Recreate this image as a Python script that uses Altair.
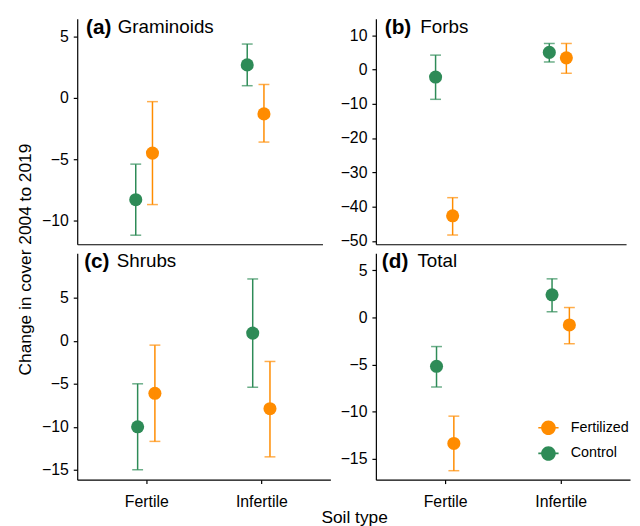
import altair as alt
import pandas as pd

FONT = "Liberation Sans"
ORANGE = "#FF8C00"
GREEN = "#2E8B57"

soil_types = ["Fertile", "Infertile"]
treatments = ["Fertilized", "Control"]
panel_tags = ["(a)", "(b)", "(c)", "(d)"]
panel_names = ["Graminoids", "Forbs", "Shrubs", "Total"]

# values per panel, ordered [Fertile, Infertile]
ctrl_mean = [[-8.3, 2.7], [-2.2, 5.0], [-10.0, 0.9], [-5.2, 2.4]]
ctrl_low = [[-11.2, 1.0], [-8.7, 2.2], [-15.0, -5.4], [-7.4, 0.6]]
ctrl_high = [[-5.4, 4.4], [4.2, 7.6], [-5.0, 7.2], [-3.1, 4.1]]
fert_mean = [[-4.5, -1.3], [-42.7, 3.4], [-6.1, -7.9], [-13.4, -0.8]]
fert_low = [[-8.7, -3.6], [-48.3, -1.1], [-11.7, -13.5], [-16.3, -2.8]]
fert_high = [[-0.3, 1.1], [-37.4, 7.6], [-0.5, -2.4], [-10.5, 1.05]]

y_domains = [[-11.94, 6.46], [-51.0, 14.8], [-16.15, 10.2], [-17.25, 6.83]]
y_ticks = [[-10, -5, 0, 5], [-50, -40, -30, -20, -10, 0, 10],
           [-15, -10, -5, 0, 5], [-15, -10, -5, 0, 5]]

# legend glyph: filled circle with short bar stubs on both sides
LEGEND_PATH = ("M-0.72,0A0.72,0.72,0,1,1,0.72,0A0.72,0.72,0,1,1,-0.72,0Z "
               "M-1,-0.08L-0.7,-0.08L-0.7,0.08L-1,0.08Z "
               "M0.7,-0.08L1,-0.08L1,0.08L0.7,0.08Z")

label_expr = "['" + "','".join(soil_types) + "'][datum.value - 1]"


def make_panel(i, w, h, bottom, ytitle=False, xtitle=False, legend=False,
               tag_x=8, name_x=41):
    rows = []
    groups = [("Control", ctrl_mean[i], ctrl_low[i], ctrl_high[i]),
              ("Fertilized", fert_mean[i], fert_low[i], fert_high[i])]
    for t, m, lo, hi in groups:
        for k, s in enumerate(soil_types):
            rows.append({"soil": s, "idx": k + 1, "treatment": t,
                         "mean": m[k], "lo": lo[k], "hi": hi[k]})
    df = pd.DataFrame(rows)

    if bottom:
        xaxis = alt.Axis(values=[1, 2], labelExpr=label_expr, labelPadding=10,
                         title="Soil type" if xtitle else None,
                         titleX=280, titleY=29, titleBaseline="top",
                         titleAlign="center", titleFontSize=17.5,
                         titleFontWeight="normal", titleColor="black")
    else:
        xaxis = alt.Axis(labels=False, ticks=False, title=None)
    if ytitle:
        yaxis = alt.Axis(values=y_ticks[i], title="Change in cover 2004 to 2019",
                         titleX=-43, titleY=243, titleAngle=270,
                         titleAlign="center", titleBaseline="bottom",
                         titleFontSize=17.5, titleFontWeight="normal",
                         titleColor="black", labelPadding=5)
    else:
        yaxis = alt.Axis(values=y_ticks[i], title=None, labelPadding=5)

    xs = alt.Scale(domain=[0.4, 2.6], nice=False, zero=False)
    ys = alt.Scale(domain=y_domains[i], nice=False, zero=False)
    cs = alt.Scale(domain=treatments, range=[ORANGE, GREEN])

    def X():
        return alt.X("xpos:Q", scale=xs, axis=xaxis)

    def Y(f):
        return alt.Y(f + ":Q", scale=ys, axis=yaxis)

    leg = None
    if legend:
        leg = alt.Legend(title=None, orient="none", legendX=164, legendY=166,
                         symbolType=LEGEND_PATH, symbolSize=420,
                         symbolStrokeWidth=0, labelFont=FONT,
                         labelFontSize=14.5, labelColor="black", labelOffset=12,
                         rowPadding=8, padding=0)

    base = alt.Chart(df).transform_calculate(
        xpos="datum.idx + (datum.treatment == 'Control' ? -0.075 : 0.075)"
    )
    col = alt.Color("treatment:N", scale=cs, legend=leg)

    pts = base.mark_circle(size=175, opacity=1).encode(
        x=X(), y=Y("mean"), color=col)
    rules = base.mark_rule(strokeWidth=1.5).encode(
        x=X(), y=Y("lo"), y2="hi:Q", color=col)
    cap_lo = base.mark_tick(orient="horizontal", size=11, thickness=1.5).encode(
        x=X(), y=Y("lo"), color=col)
    cap_hi = base.mark_tick(orient="horizontal", size=11, thickness=1.5).encode(
        x=X(), y=Y("hi"), color=col)

    tag = alt.Chart(pd.DataFrame({"t": [panel_tags[i]]})).mark_text(
        align="left", baseline="alphabetic", font=FONT, fontSize=21,
        fontWeight="bold", color="black").encode(
        x=alt.value(tag_x), y=alt.value(15), text="t:N")
    name = alt.Chart(pd.DataFrame({"t": [panel_names[i]]})).mark_text(
        align="left", baseline="alphabetic", font=FONT, fontSize=19,
        color="black").encode(
        x=alt.value(name_x), y=alt.value(14), text="t:N")

    return alt.layer(pts, rules, cap_lo, cap_hi, tag, name).properties(
        width=w, height=h)


pa = make_panel(0, 248, 228, False, ytitle=True, tag_x=9, name_x=41)
pb = make_panel(1, 253, 228, False, tag_x=9, name_x=45)
pc = make_panel(2, 256, 229, True, xtitle=True, tag_x=7, name_x=40)
pd_ = make_panel(3, 257, 229, True, legend=True, tag_x=6, name_x=42)

chart = alt.concat(
    pa, pb, pc, pd_, columns=2, spacing={"row": 9, "column": 46},
    bounds="flush"
).resolve_scale(
    color="independent"
).properties(
    padding={"left": 9, "top": 6, "right": 2, "bottom": 0}
).configure_view(stroke=None).configure_axis(
    domainColor="black", tickColor="black", labelColor="black", grid=False,
    labelFont=FONT, titleFont=FONT, domainWidth=1.2, tickWidth=1.2,
    tickSize=4, labelFontSize=16
)

chart.save("out.html", embed_options={"renderer": "svg", "actions": False})
